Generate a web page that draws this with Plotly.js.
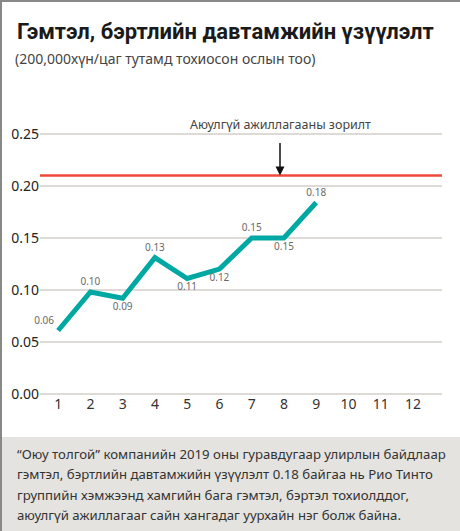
<!DOCTYPE html>
<html><head><meta charset="utf-8">
<script src="https://cdn.plot.ly/plotly-3.0.1.min.js"></script>
<style>html,body{margin:0;padding:0;background:#fff}#chart{width:460px;height:531px}</style>
</head><body><div id="chart"></div>
<script>
// Data
const quarters = [1, 2, 3, 4, 5, 6, 7, 8, 9];
const frequency = [0.061, 0.098, 0.092, 0.131, 0.111, 0.120, 0.150, 0.150, 0.184];
const valueLabels = ['0.06', '0.10', '0.09', '0.13', '0.11', '0.12', '0.15', '0.15', '0.18'];
const labelPositions = ['top left', 'top center', 'bottom center', 'top center', 'bottom center', 'bottom center', 'top center', 'bottom center', 'top center'];
const xTicks = [1, 2, 3, 4, 5, 6, 7, 8, 9, 10, 11, 12];
const yTicks = [0, 0.05, 0.10, 0.15, 0.20, 0.25];
const targetValue = 0.21;
const titleText = 'Гэмтэл, бэртлийн давтамжийн үзүүлэлт';
const subtitleText = '(200,000хүн/цаг тутамд тохиосон ослын тоо)';
const targetText = 'Аюулгүй ажиллагааны зорилт';
const footerLines = [
  '“Оюу толгой” компанийн 2019 оны гуравдугаар улирлын байдлаар',
  'гэмтэл, бэртлийн давтамжийн үзүүлэлт 0.18 байгаа нь Рио Тинто',
  'группийн хэмжээнд хамгийн бага гэмтэл, бэртэл тохиолддог,',
  'аюулгүй ажиллагааг сайн хангадаг уурхайн нэг болж байна.'
];

const W = 460, H = 531, ML = 40, MR = 18, MT = 113, MB = 137;
const PW = W - ML - MR, PH = H - MT - MB;
const px = x => (x - ML) / PW;
const py = y => (H - MB - y) / PH;
const FONT = 'Noto Sans, Open Sans, sans-serif';

const trace = {
  x: quarters, y: frequency, type: 'scatter', mode: 'lines+markers+text',
  line: {color: '#00a8a3', width: 5},
  marker: {size: 5, opacity: 0, color: '#00a8a3'},
  text: valueLabels, textposition: labelPositions,
  textfont: {size: 10, color: '#6a6a6a', family: FONT},
  hoverinfo: 'skip', cliponaxis: false
};

const annotations = [
  {xref: 'paper', yref: 'paper', x: px(15), y: py(31), xanchor: 'left', yanchor: 'middle', showarrow: false,
   text: '<b>' + titleText + '</b>', font: {size: 22, color: '#1a1a1a', family: 'Roboto, Noto Sans, sans-serif'}},
  {xref: 'paper', yref: 'paper', x: px(13), y: py(58), xanchor: 'left', yanchor: 'middle', showarrow: false,
   text: subtitleText, font: {size: 14, color: '#444', family: FONT}},
  {xref: 'paper', yref: 'paper', x: px(280), y: py(124), xanchor: 'center', yanchor: 'middle', showarrow: false,
   text: targetText, font: {size: 12.5, color: '#444', family: FONT}},
  {xref: 'paper', yref: 'y', x: px(280), y: targetValue, ax: 0, ay: -34, showarrow: true,
   arrowhead: 2, arrowsize: 1.2, arrowwidth: 1.5, arrowcolor: '#111', text: ''}
];
const footerY = [454, 474, 495, 515];
footerLines.forEach((t, i) => annotations.push({
  xref: 'paper', yref: 'paper', x: px(15), y: py(footerY[i]), xanchor: 'left', yanchor: 'middle',
  showarrow: false, text: t, font: {size: 13.2, color: '#333', family: FONT}
}));

const layout = {
  width: W, height: H, margin: {l: ML, r: MR, t: MT, b: MB},
  paper_bgcolor: '#fff', plot_bgcolor: '#fff', showlegend: false,
  font: {family: FONT},
  xaxis: {range: [0.4375, 12.9], tickvals: xTicks, ticktext: xTicks.map(String), showgrid: false,
          zeroline: false, showline: false, ticks: '', tickfont: {size: 14, color: '#333'}},
  yaxis: {range: [0, 0.27], tickvals: yTicks, tickformat: '.2f', showgrid: true, gridcolor: '#dedbd6',
          gridwidth: 1.5, zeroline: true, zerolinecolor: '#dedbd6', zerolinewidth: 1.5, showline: false,
          ticks: '', tickfont: {size: 14, color: '#222'}},
  shapes: [
    {type: 'rect', xref: 'paper', yref: 'paper', x0: px(2), x1: px(462), y0: py(437), y1: py(533),
     fillcolor: '#e4e3df', line: {width: 0}, layer: 'below'},
    {type: 'line', xref: 'paper', yref: 'y', x0: 0, x1: 1, y0: targetValue, y1: targetValue,
     line: {color: '#ef4a3b', width: 2.5}},
    {type: 'line', xref: 'paper', yref: 'paper', x0: px(0), x1: px(462), y0: py(1), y1: py(1),
     line: {color: '#888', width: 2}},
    {type: 'line', xref: 'paper', yref: 'paper', x0: px(1), x1: px(1), y0: py(0), y1: py(533),
     line: {color: '#888', width: 2}}
  ],
  annotations: annotations
};

Plotly.newPlot('chart', [trace], layout, {displayModeBar: false, staticPlot: true});
</script></body></html>
